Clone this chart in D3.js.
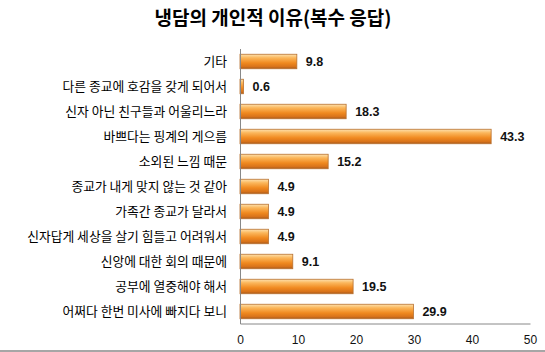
<!DOCTYPE html>
<html>
<head>
<meta charset="utf-8">
<script src="https://cdn.jsdelivr.net/npm/d3@7"></script>
<style>
  body { margin: 0; background: #fff; }
  svg { display: block; }
</style>
</head>
<body>
<div id="chart"></div>
<script>
var width = 545;
var height = 352;

var categories = [
  "기타",
  "다른 종교에 호감을 갖게 되어서",
  "신자 아닌 친구들과 어울리느라",
  "바쁘다는 핑계의 게으름",
  "소외된 느낌 때문",
  "종교가 내게 맞지 않는 것 같아",
  "가족간 종교가 달라서",
  "신자답게 세상을 살기 힘들고 어려워서",
  "신앙에 대한 회의 때문에",
  "공부에 열중해야 해서",
  "어쩌다 한번 미사에 빠지다 보니"
];
var values = [9.8, 0.6, 18.3, 43.3, 15.2, 4.9, 4.9, 4.9, 9.1, 19.5, 29.9];
var ticks = [0, 10, 20, 30, 40, 50];

var data = categories.map(function(c, i) { return { name: c, value: values[i] }; });

var svg = d3.select("#chart")
  .append("svg")
  .attr("width", width)
  .attr("height", height);

var font = "'Noto Sans CJK KR', 'Noto Sans', sans-serif";

// gradient for the bars
var defs = svg.append("defs");
var grad = defs.append("linearGradient")
  .attr("id", "barGrad")
  .attr("x1", 0).attr("y1", 0).attr("x2", 0).attr("y2", 1);
grad.append("stop").attr("offset", "0%").attr("stop-color", "#fde2b0");
grad.append("stop").attr("offset", "25%").attr("stop-color", "#fbb65a");
grad.append("stop").attr("offset", "60%").attr("stop-color", "#f0891f");
grad.append("stop").attr("offset", "85%").attr("stop-color", "#d8731a");
grad.append("stop").attr("offset", "100%").attr("stop-color", "#a85a1c");

var xScale = d3.scaleLinear().domain([0, 50]).range([240, 530]);
var yScale = d3.scaleBand().domain(categories).range([49, 324]).paddingInner(0.42).paddingOuter(0.21);

// title
svg.append("text")
  .attr("x", 273)
  .attr("y", 25)
  .style("text-anchor", "middle")
  .style("font-family", font)
  .style("font-size", "19px")
  .style("font-weight", "bold")
  .text("냉담의 개인적 이유(복수 응답)");

// bars
svg.selectAll("rect.bar")
  .data(data)
  .enter()
  .append("rect")
  .attr("class", "bar")
  .attr("x", xScale(0))
  .attr("y", function(d) { return yScale(d.name); })
  .attr("width", function(d) { return xScale(d.value) - xScale(0); })
  .attr("height", yScale.bandwidth())
  .attr("fill", "url(#barGrad)")
  .attr("stroke", "#b8702e")
  .attr("stroke-width", 0.8);

// value labels
svg.selectAll("text.val")
  .data(data)
  .enter()
  .append("text")
  .attr("class", "val")
  .attr("x", function(d) { return xScale(d.value) + 9; })
  .attr("y", function(d) { return yScale(d.name) + yScale.bandwidth() / 2; })
  .attr("dy", "0.36em")
  .style("font-family", "'Liberation Sans', Arial, sans-serif")
  .style("font-size", "12.5px")
  .style("font-weight", "bold")
  .style("fill", "#111")
  .text(function(d) { return d.value.toFixed(1); });

// category labels
svg.selectAll("text.cat")
  .data(data)
  .enter()
  .append("text")
  .attr("class", "cat")
  .attr("x", 227)
  .attr("y", function(d) { return yScale(d.name) + yScale.bandwidth() / 2; })
  .attr("dy", "0.36em")
  .style("text-anchor", "end")
  .style("font-family", font)
  .style("font-size", "12.8px")
  .style("fill", "#000")
  .text(function(d) { return d.name; });

// axes
var xAxis = d3.axisBottom(xScale).tickValues(ticks).tickSize(0).tickPadding(12);
var gx = svg.append("g")
  .attr("transform", "translate(0,323.5)")
  .call(xAxis);
gx.select(".domain").attr("stroke", "#888");
gx.selectAll("text")
  .style("font-family", "'Liberation Sans', Arial, sans-serif")
  .style("font-size", "12px")
  .style("fill", "#111");

svg.append("line")
  .attr("x1", 240.5).attr("x2", 240.5)
  .attr("y1", 49).attr("y2", 324)
  .attr("stroke", "#888");

// bottom frame line
svg.append("line")
  .attr("x1", 0).attr("x2", width)
  .attr("y1", 351).attr("y2", 351)
  .attr("stroke", "#888")
  .attr("stroke-width", 1.5);
</script>
</body>
</html>
